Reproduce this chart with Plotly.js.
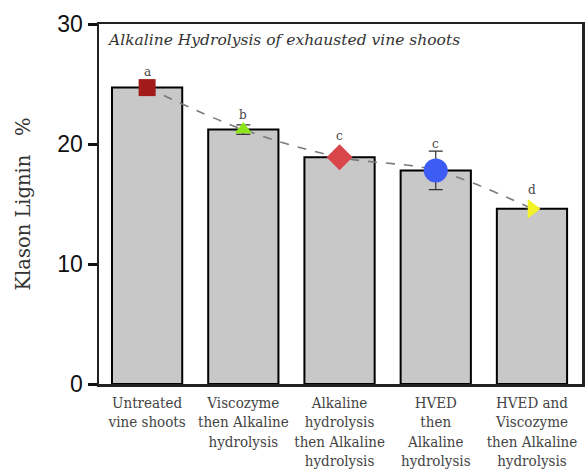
<!DOCTYPE html>
<html><head><meta charset="utf-8">
<script src="https://cdn.plot.ly/plotly-3.0.1.min.js"></script>
<style>html,body{margin:0;padding:0;background:#fff}</style>
</head><body><div id="chart" style="width:585px;height:471px"></div>
<script>
const categories = ["Untreated<br>vine shoots","Viscozyme<br>then Alkaline<br>hydrolysis","Alkaline<br>hydrolysis<br>then Alkaline<br>hydrolysis","HVED<br>then<br>Alkaline<br>hydrolysis","HVED and<br>Viscozyme<br>then Alkaline<br>hydrolysis"];
const barValues = [24.7, 21.2, 18.9, 17.8, 14.6];
const markerValues = [24.7, 21.2, 18.9, 17.8, 14.6];
const errorValues = [0, 0.4, 0, 1.6, 0];
const letters = ["a","b","c","c","d"];
const letterOffsets = [1.3, 1.2, 1.8, 2.2, 1.6];
const markerSymbols = ["square","triangle-up","diamond","circle","triangle-right"];
const markerColors = ["#a31a1a","#8ee61a","#d9464a","#3d5cf5","#f2f226"];
const markerSizes = [17, 15, 20, 24, 17];
const yTicks = [0, 10, 20, 30];
const idx = categories.map((c,i)=>i);

const serif = 'DejaVu Serif, serif';
const traces = [
  {type:'bar', x: idx, y: barValues, width:0.73,
   marker:{color:'#c8c8c8', line:{color:'#000', width:2}}, hoverinfo:'none'},
  {type:'scatter', mode:'lines', x: idx, y: markerValues, line:{color:'#7a7a7a', width:1.6, dash:'dash', shape:'spline'}},
  {type:'scatter', mode:'markers', x: idx, y: markerValues,
   error_y:{type:'data', array: errorValues, visible:true, color:'#333', thickness:1.2, width:7},
   marker:{symbol: markerSymbols, color: markerColors, size: markerSizes, opacity:1, line:{width:0}}}
];

const annotations = letters.map((t,i)=>({x:i, y: markerValues[i]+letterOffsets[i], text:t, showarrow:false,
  font:{family:serif, size:12, color:'#444'}}));
annotations.push({xref:'paper', yref:'paper', x:0.012, y:0.985, xanchor:'left', yanchor:'top', showarrow:false,
  text:'<i>Alkaline Hydrolysis of exhausted vine shoots</i>', font:{family:serif, size:15.5, color:'#333'}});

const layout = {
  width:585, height:471, margin:{l:99, r:3, t:24, b:87},
  paper_bgcolor:'#fff', plot_bgcolor:'#fff', showlegend:false,
  annotations: annotations,
  xaxis:{range:[-0.5,4.52], tickvals: idx, ticktext: categories, showgrid:false, zeroline:false,
    showline:true, mirror:true, linecolor:'#222', linewidth:2.5, ticks:'', ticklabelstandoff:3,
    tickfont:{family:'DejaVu Serif Condensed, DejaVu Serif, serif', size:15, color:'#444'}},
  yaxis:{range:[0,30], tickvals: yTicks, showgrid:false, zeroline:false,
    showline:true, mirror:true, linecolor:'#222', linewidth:2.5, ticks:'outside', ticklen:9, tickwidth:3, tickcolor:'#111',
    tickfont:{family:'Liberation Sans, Arial, sans-serif', size:23, color:'#111'},
    title:{text:'Klason Lignin\u00a0\u00a0\u00a0%', standoff:22, font:{family:serif, size:19.5, color:'#333'}}}
};
Plotly.newPlot('chart', traces, layout, {staticPlot:true});
</script></body></html>
